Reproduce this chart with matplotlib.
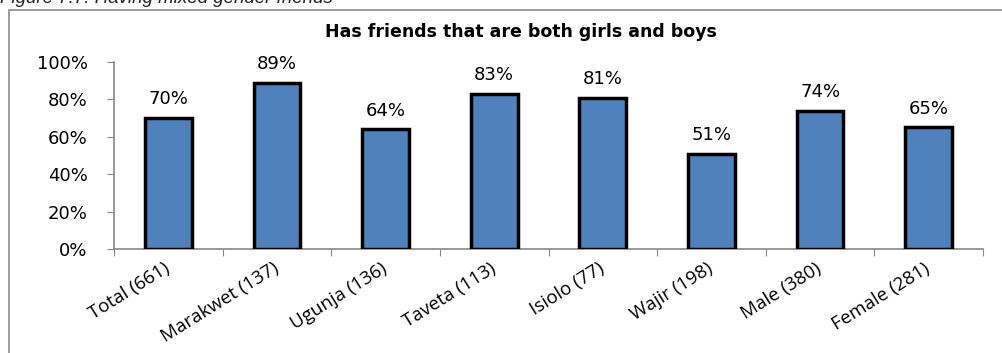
import matplotlib
matplotlib.use("Agg")
import matplotlib.pyplot as plt
from matplotlib.patches import Rectangle
from matplotlib.ticker import FuncFormatter

categories = ["Total (661)", "Marakwet (137)", "Ugunja (136)", "Taveta (113)",
              "Isiolo (77)", "Wajir (198)", "Male (380)", "Female (281)"]
values = [70, 89, 64, 83, 81, 51, 74, 65]
title = "Has friends that are both girls and boys"
caption = "Figure 7.7: Having mixed gender friends"

W, H = 1002, 353
fig = plt.figure(figsize=(W / 100, H / 100), dpi=100)

# outer chart frame (extends past right and bottom)
fig.patches.append(Rectangle((9 / W, -0.1), 1.2, 1 - 10 / H + 0.1,
                             transform=fig.transFigure, fill=False,
                             edgecolor="#8c8c8c", linewidth=1.2, zorder=0))

# caption clipped at top
fig.text(0.0, 1 - 3 / H, caption, fontsize=13.5, style="italic",
         family="Liberation Sans", ha="left", va="baseline", color="#222222")

ax = fig.add_axes([114 / W, 1 - 249 / H, (983 - 114) / W, (249 - 62) / H])
x = list(range(len(categories)))
ax.bar(x, values, width=0.43, color="#4F81BD", edgecolor="black", linewidth=2.5, zorder=3)
ax.set_xlim(-0.5, len(categories) - 0.5)
ax.set_ylim(0, 100)
ax.set_yticks([0, 20, 40, 60, 80, 100])
ax.yaxis.set_major_formatter(FuncFormatter(lambda v, p: f"{int(v)}%"))
ax.set_xticks([i - 0.5 for i in range(len(categories) + 1)], minor=False)
ax.set_xticklabels([""] * (len(categories) + 1))
ax.set_xticks(x, minor=True)
ax.set_xticklabels(categories, minor=True, rotation=32, ha="right", va="center",
                   rotation_mode="anchor", fontsize=13.5, family="Open Sans")
ax.tick_params(axis="x", which="minor", length=0, pad=13)
ax.tick_params(axis="x", which="major", length=5, color="#888888", direction="out")
ax.tick_params(axis="y", length=5, color="#888888", labelsize=13, pad=14)
for lab in ax.get_yticklabels():
    lab.set_family("DejaVu Sans")
for s in ["top", "right"]:
    ax.spines[s].set_visible(False)
for s in ["left", "bottom"]:
    ax.spines[s].set_color("#888888")
    ax.spines[s].set_linewidth(1.2)

for xi, v in zip(x, values):
    ax.annotate(f"{v}%", (xi, v), xytext=(0, 7), textcoords="offset points",
                ha="center", va="bottom", fontsize=13, family="DejaVu Sans")

fig.text(0.52, 1 - 32 / H, title, ha="center", va="center", fontsize=12.5,
         fontweight="bold", family="DejaVu Sans")

fig.savefig("out.png", dpi=100)
